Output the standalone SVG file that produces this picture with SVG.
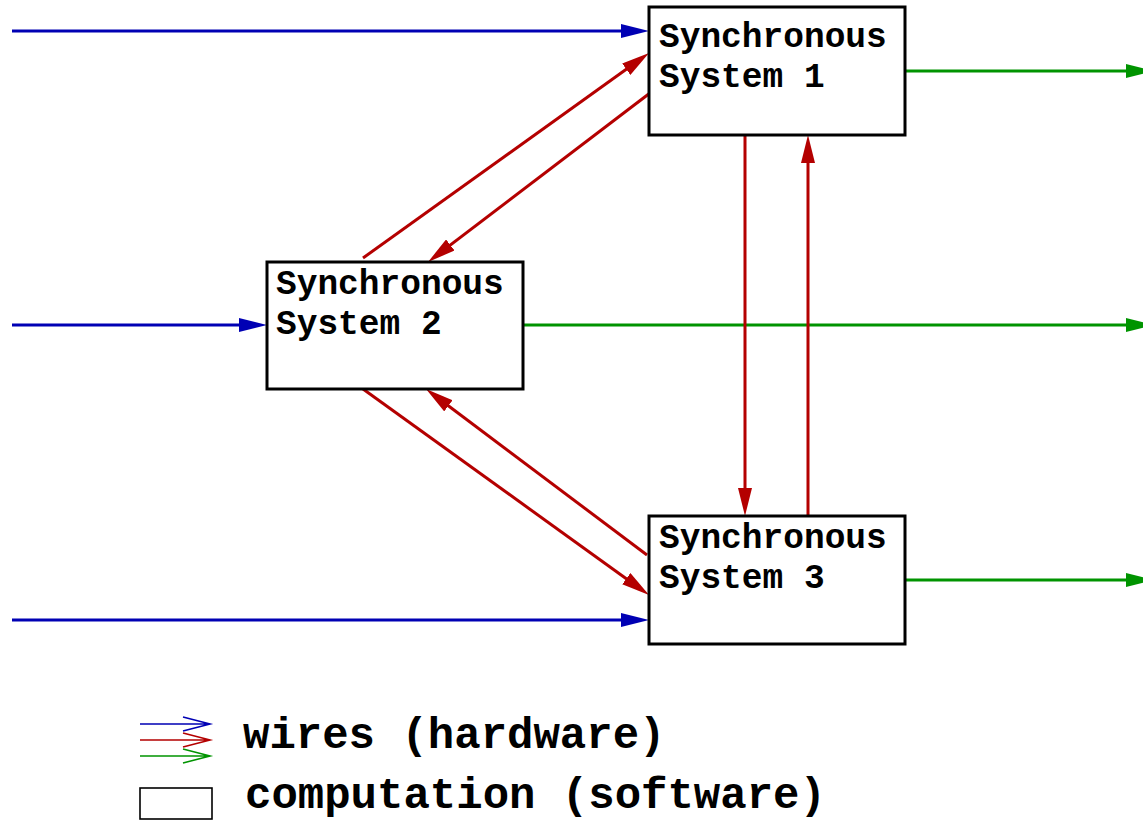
<svg xmlns="http://www.w3.org/2000/svg" width="1143" height="820" viewBox="0 0 1143 820">
  <style>
    .box { fill: #ffffff; stroke: #000000; stroke-width: 3; }
    .label { font-family: "Liberation Mono", "Courier New", monospace; font-weight: bold; font-size: 34.5px; fill: #000000; }
    .legend { font-family: "Liberation Mono", "Courier New", monospace; font-weight: bold; font-size: 44px; fill: #000000; }
    .wire { fill: none; stroke-width: 3; }
    .in { stroke: #0000b4; }
    .link { stroke: #b40000; }
    .out { stroke: #009400; }
    .thin { fill: none; stroke-width: 1.6; }
  </style>
  <defs>
    <marker id="head-blue" markerUnits="userSpaceOnUse" markerWidth="28" markerHeight="14" refX="18" refY="7" orient="auto">
      <path d="M0,0 L28,7 L0,14 Z" fill="#0000b4"/>
    </marker>
    <marker id="head-red" markerUnits="userSpaceOnUse" markerWidth="28" markerHeight="14" refX="18" refY="7" orient="auto">
      <path d="M0,0 L28,7 L0,14 Z" fill="#b40000"/>
    </marker>
    <marker id="head-green" markerUnits="userSpaceOnUse" markerWidth="28" markerHeight="14" refX="18" refY="7" orient="auto">
      <path d="M0,0 L28,7 L0,14 Z" fill="#009400"/>
    </marker>
  </defs>

  <g id="connectors">
    <!-- inputs -->
    <line class="wire in" x1="12" y1="31" x2="639" y2="31" marker-end="url(#head-blue)"/>
    <line class="wire in" x1="12" y1="325" x2="257" y2="325" marker-end="url(#head-blue)"/>
    <line class="wire in" x1="12" y1="620" x2="639" y2="620" marker-end="url(#head-blue)"/>
    <!-- outputs -->
    <line class="wire out" x1="905" y1="71" x2="1144" y2="71" marker-end="url(#head-green)"/>
    <line class="wire out" x1="523" y1="325" x2="1144" y2="325" marker-end="url(#head-green)"/>
    <line class="wire out" x1="905" y1="580" x2="1144" y2="580" marker-end="url(#head-green)"/>
    <!-- links between systems -->
    <line class="wire link" x1="363" y1="258" x2="640.9" y2="58.8" marker-end="url(#head-red)"/>
    <line class="wire link" x1="650" y1="93" x2="436" y2="255.9" marker-end="url(#head-red)"/>
    <line class="wire link" x1="363" y1="389" x2="640.9" y2="589.2" marker-end="url(#head-red)"/>
    <line class="wire link" x1="647" y1="555" x2="434" y2="395" marker-end="url(#head-red)"/>
    <line class="wire link" x1="745" y1="135" x2="745" y2="506" marker-end="url(#head-red)"/>
    <line class="wire link" x1="808" y1="516" x2="808" y2="145" marker-end="url(#head-red)"/>
  </g>

  <g id="system1">
    <rect class="box" x="649" y="7" width="256" height="128"/>
    <text class="label" x="659" y="47">Synchronous</text>
    <text class="label" x="659" y="87">System 1</text>
  </g>

  <g id="system2">
    <rect class="box" x="267" y="262" width="256" height="127"/>
    <text class="label" x="276" y="294">Synchronous</text>
    <text class="label" x="276" y="334">System 2</text>
  </g>

  <g id="system3">
    <rect class="box" x="649" y="516" width="256" height="128"/>
    <text class="label" x="659" y="548">Synchronous</text>
    <text class="label" x="659" y="588">System 3</text>
  </g>

  <g id="legend">
    <path class="thin" stroke="#0000b4" d="M140,724 H210 M183,717 L210,724 L183,731"/>
    <path class="thin" stroke="#b40000" d="M140,740 H210 M183,733 L210,740 L183,747"/>
    <path class="thin" stroke="#009400" d="M140,756 H210 M183,749 L210,756 L183,763"/>
    <text class="legend" x="243" y="748">wires (hardware)</text>
    <rect x="140" y="788" width="72" height="31" fill="#ffffff" stroke="#000000" stroke-width="1.6"/>
    <text class="legend" x="245" y="808">computation (software)</text>
  </g>
</svg>
